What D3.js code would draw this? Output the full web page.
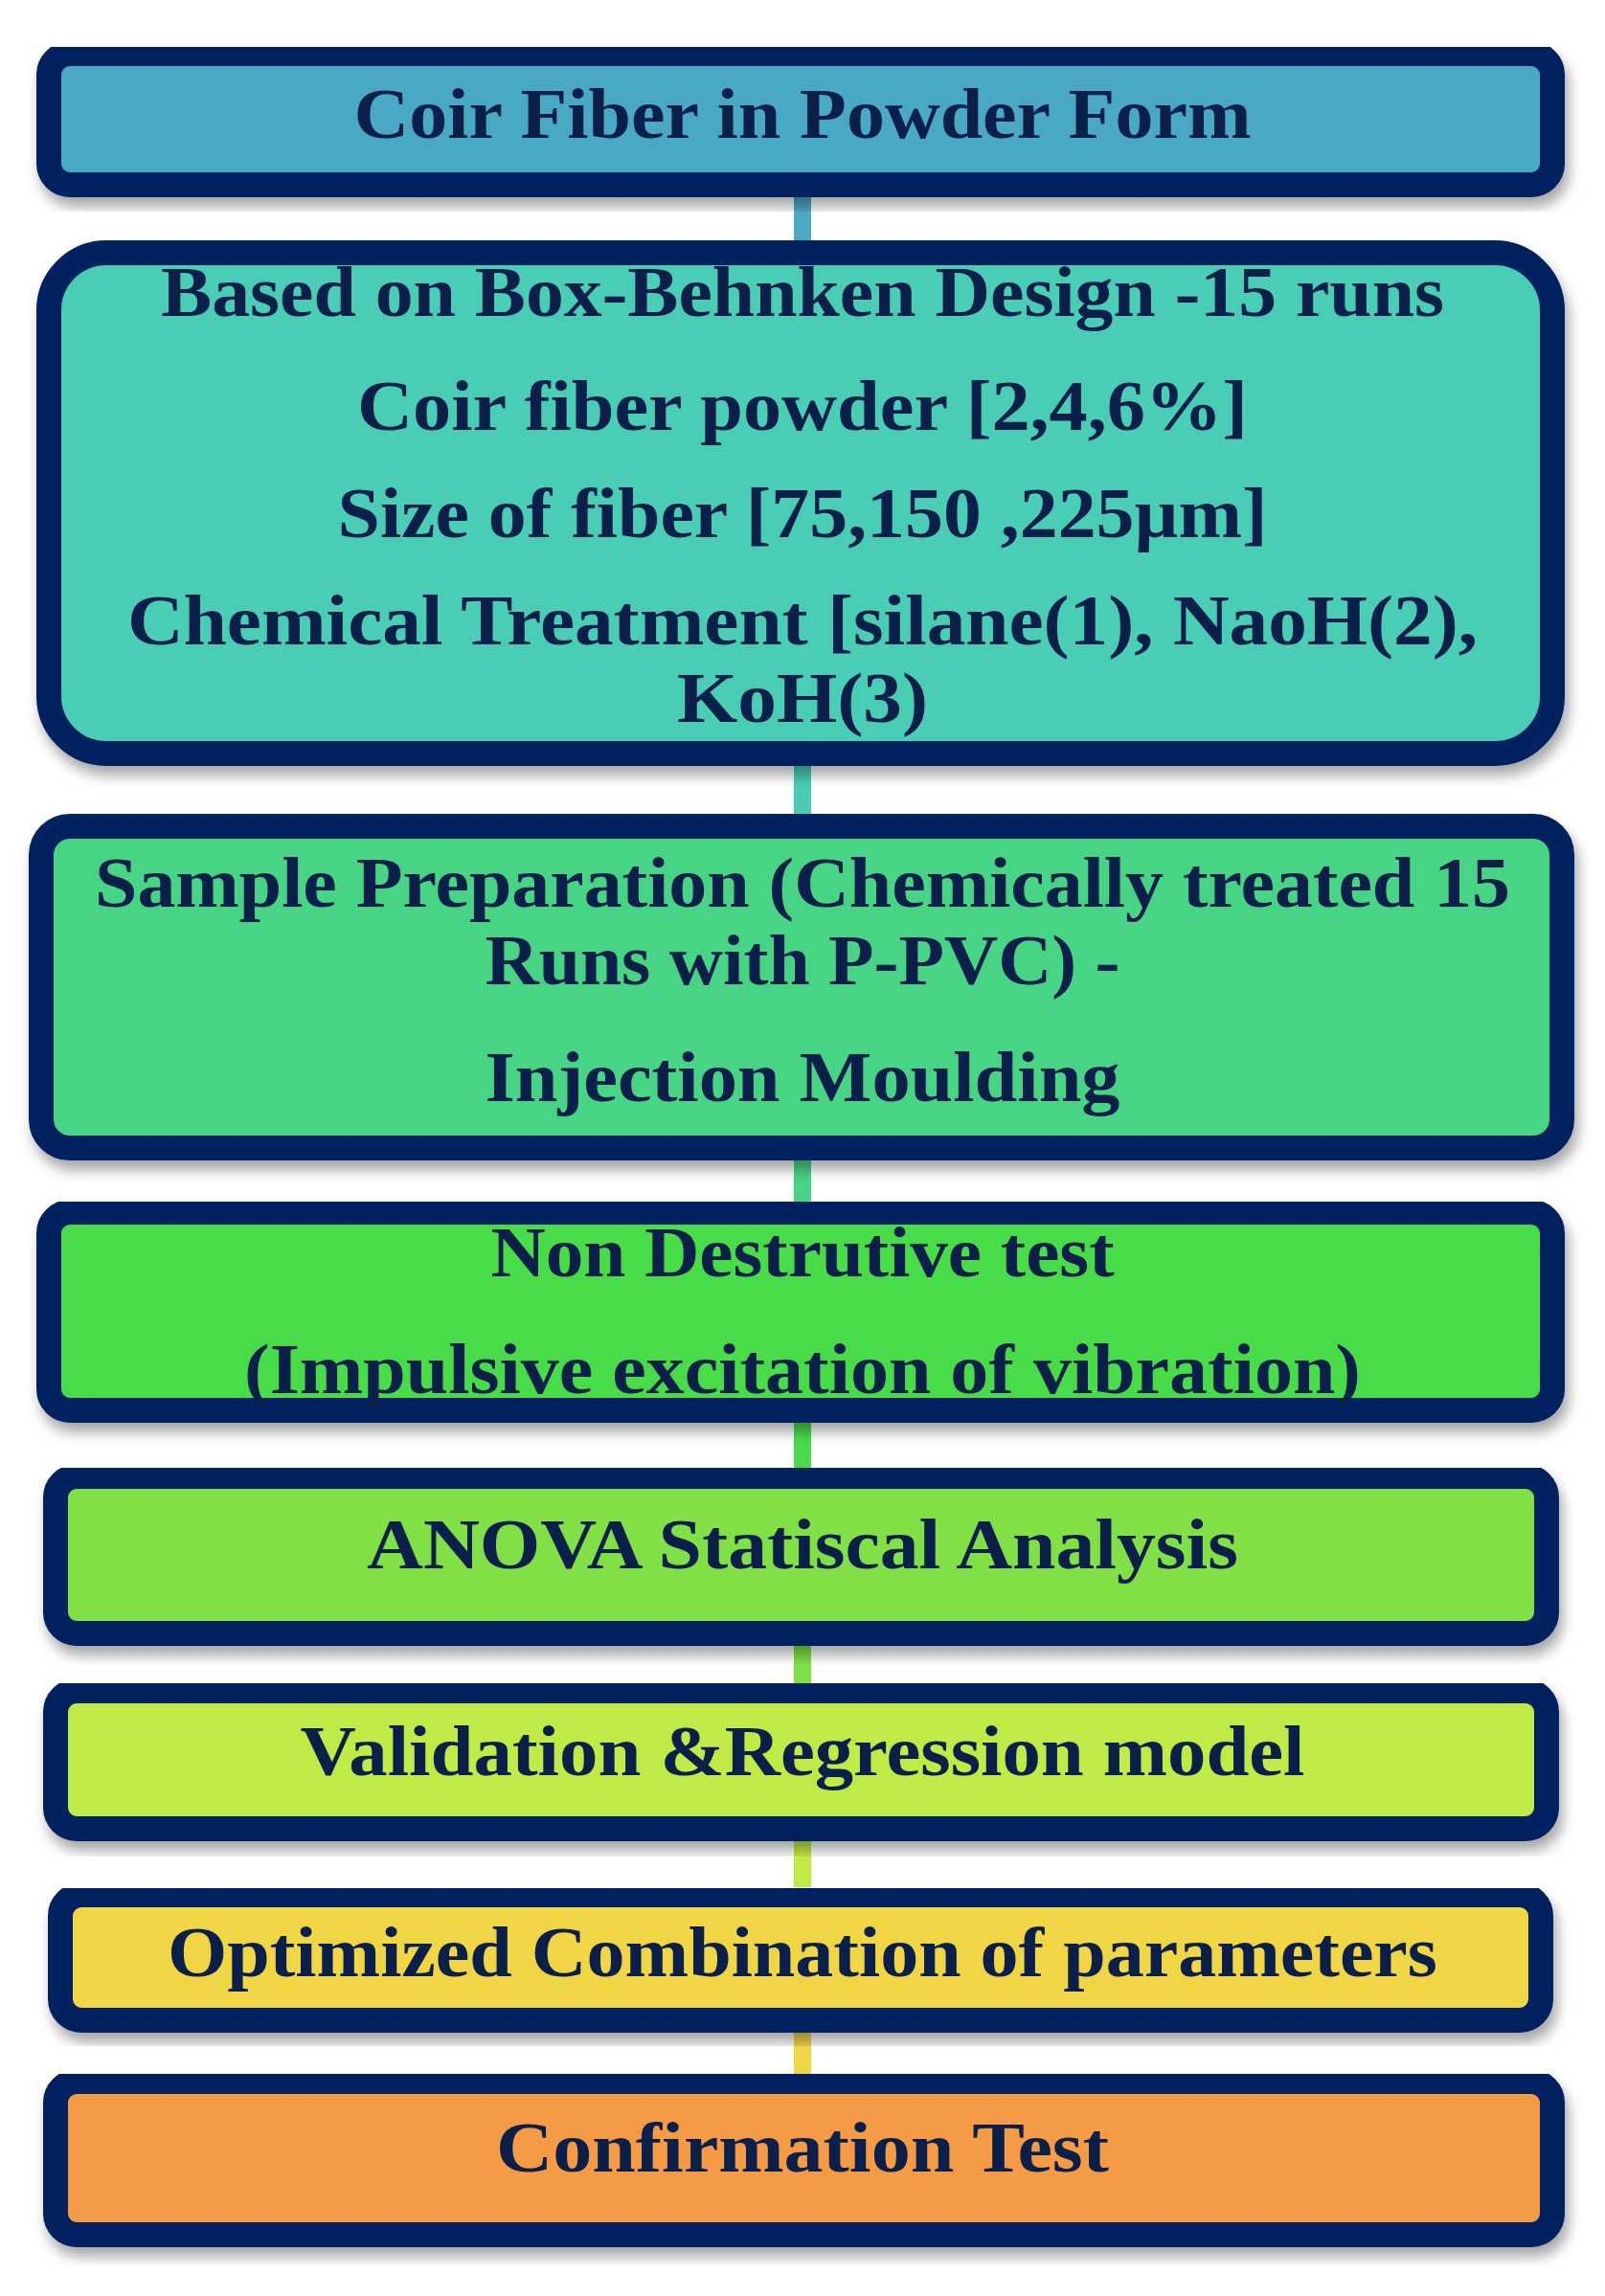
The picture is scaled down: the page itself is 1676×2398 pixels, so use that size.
<!DOCTYPE html>
<html><head><meta charset="utf-8">
<script src="https://cdn.jsdelivr.net/npm/d3@7"></script>
<style>body{margin:0;background:#fff}</style></head>
<body><svg id="c" width="1676" height="2398"></svg>
<script>
// Flowchart steps
const steps = ["Coir Fiber","Box-Behnken","Sample Prep","NDT","ANOVA","Validation","Optimized","Confirmation"];
const fills = ["#4aa9c4","#48cdb4","#47d585","#48dc4a","#80e044","#c0ea44","#f0d545","#f59a45"];
const lines = [
 ["Coir Fiber in Powder Form"],
 ["Based on Box-Behnken Design -15 runs","Coir fiber powder [2,4,6%]","Size of fiber [75,150 ,225µm]","Chemical Treatment [silane(1), NaoH(2),","KoH(3)"],
 ["Sample Preparation (Chemically treated 15","Runs with P-PVC) -","Injection Moulding"],
 ["Non Destrutive test","(Impulsive excitation of vibration)"],
 ["ANOVA Statiscal Analysis"],
 ["Validation &Regression model"],
 ["Optimized Combination of parameters"],
 ["Confirmation Test"]
];
// layout (pixels)
const boxes = [[38,43,1634,206,22],[38,251,1634,800,60],[30,850,1644,1212,30],[38,1253,1634,1486,22],[45,1529,1628,1719,22],[45,1753,1628,1923,22],[50,1966,1622,2123,22],[45,2161,1634,2347,22]];
const lineY = [[119],[305,424,536,648,729],[922,1003,1125],[1308,1430],[1613],[1829],[2039],[2243]];
const lw = [[937],[1340,930,971,1410,262],[1478,663,663],[651,1166],[910],[1049],[1326],[640]];

const svg = d3.select("#c");
const defs = svg.append("defs");
const f = defs.append("filter").attr("id","sh").attr("x","-5%").attr("y","-5%").attr("width","115%").attr("height","125%");
f.append("feDropShadow").attr("dx",4).attr("dy",10).attr("stdDeviation",7).attr("flood-color","#000").attr("flood-opacity",0.35);

steps.forEach((s,i)=>{
  if(i<steps.length-1){
    svg.append("rect").attr("x",829).attr("width",18)
      .attr("y",boxes[i][3]-5).attr("height",boxes[i+1][1]-boxes[i][3]+10)
      .attr("fill",fills[i]);
  }
});
const g = svg.selectAll("g.step").data(steps).join("g").attr("class","step");
g.append("rect")
 .attr("x",(d,i)=>boxes[i][0]+13).attr("y",(d,i)=>boxes[i][1]+13)
 .attr("width",(d,i)=>boxes[i][2]-boxes[i][0]-26).attr("height",(d,i)=>boxes[i][3]-boxes[i][1]-26)
 .attr("rx",(d,i)=>boxes[i][4]).attr("fill",(d,i)=>fills[i])
 .attr("stroke","#002060").attr("stroke-width",26).attr("filter","url(#sh)");
g.each(function(d,i){
  d3.select(this).selectAll("text").data(lines[i]).join("text")
   .attr("x",838).attr("y",(t,j)=>lineY[i][j]).attr("text-anchor","middle")
   .attr("dominant-baseline","central")
   .attr("font-family","Liberation Serif, serif").attr("font-weight","bold")
   .attr("font-size",74).attr("fill","#0a1f4a")
   .attr("textLength",(t,j)=>lw[i][j]).attr("lengthAdjust","spacingAndGlyphs")
   .text(t=>t);
});
</script></body></html>
